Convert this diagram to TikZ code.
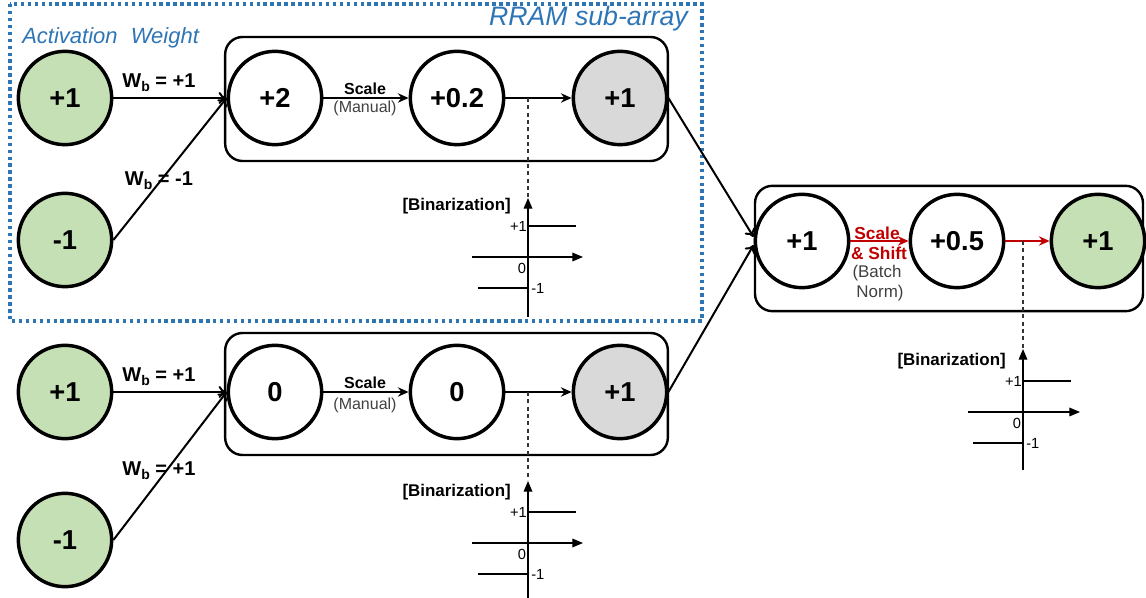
\documentclass[tikz,border=0pt]{standalone}
\usepackage{fontspec}
\setmainfont{Liberation Sans}
\usetikzlibrary{arrows.meta}
\definecolor{cgreen}{HTML}{C5E0B4}
\definecolor{cgray}{HTML}{D9D9D9}
\definecolor{cblue}{HTML}{2E75B6}
\definecolor{cred}{HTML}{C00000}
\definecolor{ctext}{HTML}{404040}
\newcommand{\Wb}[1]{W\raisebox{-0.35ex}{\fontsize{10.5}{11}\selectfont b} = #1}
\tikzset{
  neuron/.style={circle, draw, line width=2.6pt, minimum size=70pt, inner sep=0pt,
     font=\bfseries\fontsize{20.5}{22}\selectfont},
  gn/.style={neuron, fill=cgreen},
  wn/.style={neuron, fill=white},
  yn/.style={neuron, fill=cgray},
  boxx/.style={draw, line width=1.8pt, rounded corners=13pt, inner sep=0pt},
  conn/.style={line width=1.5pt, -{To[length=6pt,width=9pt,line width=1.5pt]}},
  sconn/.style={line width=1.5pt, -{Stealth[length=8pt,width=7pt]}},
  wlab/.style={font=\bfseries\fontsize{15}{16}\selectfont, inner sep=0pt},
  slab/.style={font=\bfseries\fontsize{12}{13}\selectfont, inner sep=0pt},
  mlab/.style={font=\fontsize{12}{13}\selectfont, text=ctext, inner sep=0pt},
  blab/.style={font=\bfseries\fontsize{12.7}{13}\selectfont, inner sep=0pt, anchor=east},
  alab/.style={font=\fontsize{11}{12}\selectfont, inner sep=0pt},
  dline/.style={line width=0.9pt, dash pattern=on 3pt off 2.5pt, draw=black!80},
  axis/.style={line width=0.9pt, -{Triangle[length=8pt,width=6.5pt]}},
  lev/.style={line width=1.8pt},
  ilab/.style={font=\itshape\fontsize{16.5}{18}\selectfont, text=cblue, inner sep=0pt}
}
\begin{document}
\begin{tikzpicture}[x=0.75pt,y=-0.75pt]
\useasboundingbox (0,0) rectangle (1146,598);
% dotted RRAM region
\draw[cblue, line width=2.8pt, dash pattern=on 2.6pt off 2.6pt] (10,4) rectangle (702,321);
\node[ilab, font=\itshape\fontsize{20}{22}\selectfont, anchor=base east] (rram) at (688,26) {RRAM sub-array};
\node[ilab, anchor=base west] (actw) at (22,44) {Activation\hspace{0.6em}Weight};

% boxes
\node[boxx, minimum width=332pt, minimum height=93pt] (box1) at (446.5,99) {};
\node[boxx, minimum width=332pt, minimum height=91.5pt] (box2) at (446.5,394) {};
\node[boxx, minimum width=291pt, minimum height=94pt] (box3) at (949,248.5) {};

% top row
\node[gn] (a1) at (65,98) {+1};
\node[gn] (a2) at (65,240) {-1};
\node[wn] (s1) at (275,98) {+2};
\node[wn] (t1) at (457,98) {+0.2};
\node[yn] (g1) at (620,98) {+1};

% bottom row
\node[gn] (b1) at (65,392) {+1};
\node[gn] (b2) at (65,540) {-1};
\node[wn] (s2) at (275,392) {0};
\node[wn] (t2) at (457,392) {0};
\node[yn] (g2) at (620,392) {+1};

% right row
\node[wn] (r1) at (802,241) {+1};
\node[wn] (r2) at (957,241) {+0.5};
\node[gn] (r3) at (1098,241) {+1};

% input connectors
\draw[conn] (a1.east) -- (s1.west);
\draw[conn] (a2.east) -- (s1.west);
\draw[conn] (b1.east) -- (s2.west);
\draw[conn] (b2.east) -- (s2.west);
\node[wlab] (w1) at (159,83) {\Wb{+1}};
\node[wlab] (w2) at (159,181) {\Wb{-1}};
\node[wlab] (w3) at (159,377) {\Wb{+1}};
\node[wlab] (w4) at (159,471) {\Wb{+1}};

% scale connectors
\draw[sconn] (s1.east) -- (t1.west);
\draw[sconn] (s2.east) -- (t2.west);
\node[slab] (sc1) at (365,89) {Scale};
\node[mlab] (m1) at (365,108) {(Manual)};
\node[slab] (sc2) at (365,383) {Scale};
\node[mlab] (m2) at (365,405) {(Manual)};
\draw[sconn] (t1.east) -- (g1.west);
\draw[sconn] (t2.east) -- (g2.west);

% to right block
\draw[conn] (g1.east) -- ([yshift=3pt]r1.west);
\draw[conn] (g2.east) -- ([yshift=-3pt]r1.west);

% right block arrows
\draw[sconn, cred] (r1.east) -- (r2.west);
\draw[sconn, cred] (r2.east) -- (r3.west);
\node[slab, text=cred, font=\bfseries\fontsize{13}{14}\selectfont] (ss1) at (877,233) {Scale};
\node[slab, text=cred, font=\bfseries\fontsize{13}{14}\selectfont] (ss2) at (879,253) {\& Shift};
\node[mlab, font=\fontsize{12.7}{13}\selectfont] (bn1) at (877,273) {(Batch};
\node[mlab, font=\fontsize{12.7}{13}\selectfont] (bn2) at (880,293) {Norm)};

% binarization graphs
\foreach \n/\ox/\oy/\top/\tap/\bot/\hl/\hr in {1/528/257/98/197/317/472/583, 2/528/543/392/480/600/472/583, 3/1023/412/241/348/470/968/1080}{
  \coordinate (dt\n) at (\ox,\top);
  \coordinate (db\n) at (\ox,\tap);
  \coordinate (vb\n) at (\ox,\bot);
  \coordinate (vt\n) at (\ox,\tap+1);
  \coordinate (hl\n) at (\hl,\oy);
  \coordinate (hr\n) at (\hr,\oy);
  \draw[dline] (dt\n) -- (db\n);
  \draw[axis] (vb\n) -- (vt\n);
  \draw[axis] (hl\n) -- (hr\n);
  \coordinate (p0\n) at (\ox,\oy-31);
  \coordinate (p1\n) at (\ox+48,\oy-31);
  \coordinate (m0\n) at (\ox-50,\oy+31);
  \coordinate (m1\n) at (\ox,\oy+31);
  \draw[lev] (p0\n) -- (p1\n);
  \draw[lev] (m0\n) -- (m1\n);
  \node[alab, anchor=east] (lp\n) at (\ox-1,\oy-31) {+1};
  \node[alab] (lz\n) at (\ox-6,\oy+11) {0};
  \node[alab, anchor=west] (lm\n) at (\ox+3,\oy+31) {-1};
  \node[blab] (bz\n) at (\ox-17,\oy-51) {[Binarization]};
}
\end{tikzpicture}
\end{document}
